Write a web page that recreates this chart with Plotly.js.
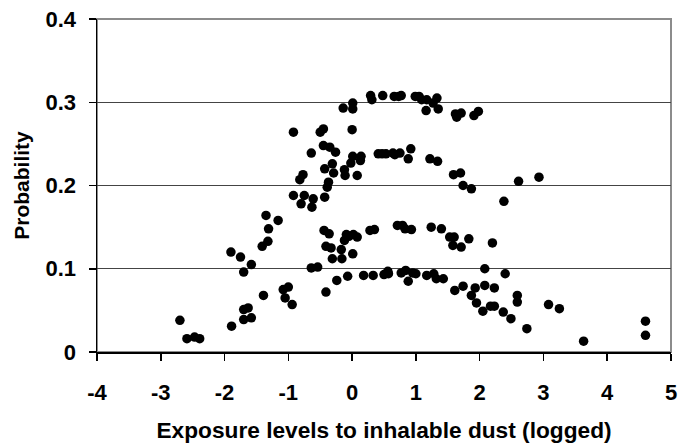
<!DOCTYPE html>
<html>
<head>
<meta charset="utf-8">
<script src="https://cdn.plot.ly/plotly-3.0.1.min.js"></script>
<style>html,body{margin:0;padding:0;background:#fff}#chart{width:680px;height:448px}</style>
</head>
<body>
<div id="chart"></div>
<script>
// Exposure (logged) values
var exposure = [
 -2.70,-2.59,-2.47,-2.39,-1.90,-1.89,-1.75,-1.70,-1.70,-1.70,
 -1.63,-1.58,-1.58,-1.39,-1.41,-1.35,-1.32,-1.31,-1.16,-1.08,
 -1.05,-1.00,-0.94,-0.92,-0.92,-0.82,-0.77,-0.80,-0.75,-0.64,
 -0.63,-0.61,-0.64,-0.54,-0.50,-0.45,-0.45,-0.43,-0.43,-0.44,
 -0.41,-0.41,-0.39,-0.37,-0.36,-0.35,-0.33,-0.31,-0.31,-0.29,
 -0.26,-0.24,-0.17,-0.16,-0.14,-0.12,-0.11,-0.12,-0.07,-0.09,
 -0.05,-0.02,0.00,0.01,0.01,0.01,0.01,0.02,0.08,0.08,
 0.13,0.14,0.18,0.29,0.31,0.28,0.35,0.33,0.41,0.48,
 0.47,0.50,0.53,0.56,0.57,0.64,0.66,0.67,0.73,0.77,
 0.71,0.75,0.79,0.77,0.83,0.84,0.88,0.88,0.92,0.93,
 0.95,1.00,0.99,1.05,1.09,1.16,1.17,1.17,1.24,1.22,
 1.27,1.28,1.34,1.32,1.33,1.35,1.40,1.43,1.53,1.58,
 1.60,1.59,1.61,1.62,1.64,1.70,1.71,1.71,1.74,1.74,
 1.83,1.87,1.87,1.91,1.93,1.95,1.98,2.05,2.08,2.08,
 2.17,2.20,2.23,2.23,2.37,2.38,2.40,2.49,2.59,2.59,
 2.61,2.74,2.93,3.08,3.25,3.63,4.60,4.60
];
// Probability values
var probability = [
 0.038,0.016,0.018,0.016,0.120,0.031,0.114,0.096,0.051,0.039,
 0.053,0.041,0.105,0.068,0.127,0.164,0.133,0.148,0.158,0.075,
 0.065,0.078,0.057,0.264,0.188,0.207,0.213,0.178,0.188,0.239,
 0.174,0.184,0.101,0.102,0.264,0.268,0.248,0.220,0.186,0.146,
 0.127,0.072,0.198,0.204,0.142,0.246,0.125,0.112,0.226,0.215,
 0.240,0.086,0.123,0.112,0.293,0.219,0.212,0.134,0.091,0.141,
 0.139,0.227,0.267,0.299,0.292,0.118,0.235,0.141,0.138,0.212,
 0.230,0.235,0.092,0.308,0.303,0.146,0.147,0.092,0.238,0.308,
 0.238,0.093,0.238,0.097,0.094,0.239,0.307,0.237,0.307,0.308,
 0.152,0.239,0.152,0.095,0.148,0.098,0.232,0.085,0.244,0.147,
 0.095,0.094,0.307,0.307,0.303,0.290,0.303,0.092,0.150,0.232,
 0.299,0.094,0.229,0.088,0.305,0.292,0.148,0.088,0.138,0.128,
 0.138,0.213,0.074,0.286,0.282,0.215,0.287,0.126,0.079,0.200,
 0.136,0.196,0.068,0.284,0.077,0.059,0.289,0.049,0.100,0.080,
 0.055,0.131,0.055,0.077,0.048,0.181,0.094,0.040,0.060,0.068,
 0.205,0.028,0.210,0.057,0.052,0.013,0.037,0.020
];
var xTicks = [-4,-3,-2,-1,0,1,2,3,4,5];
var yTicks = [0,0.1,0.2,0.3,0.4];

var font = "Liberation Sans, Arial, sans-serif";
var trace = {
  x: exposure, y: probability, type: 'scatter', mode: 'markers',
  marker: {color: '#000', size: 9.5, line: {width: 0}},
  hoverinfo: 'skip'
};
var layout = {
  width: 680, height: 448,
  margin: {l: 96.5, r: 9.3, t: 19, b: 96},
  paper_bgcolor: '#fff', plot_bgcolor: '#fff',
  showlegend: false,
  font: {family: font, color: '#000'},
  xaxis: {
    range: [-4, 5], tickvals: xTicks, ticktext: xTicks.map(String),
    showgrid: false, zeroline: false,
    showline: true, linecolor: '#000', linewidth: 1.5,
    ticks: 'outside', ticklen: 7, tickcolor: '#000', tickwidth: 1.5,
    ticklabelstandoff: 13,
    tickfont: {family: font, size: 22, weight: 'bold', color: '#000'},
    title: {text: 'Exposure levels to inhalable dust (logged)', standoff: 18,
            font: {family: font, size: 22.7, weight: 'bold', color: '#000'}},
    automargin: false
  },
  yaxis: {
    range: [0, 0.4], tickvals: yTicks, ticktext: ['0','0.1','0.2','0.3','0.4'],
    showgrid: true, gridcolor: '#444', gridwidth: 1, zeroline: false,
    showline: true, linecolor: '#000', linewidth: 1.5,
    ticks: 'outside', ticklen: 7, tickcolor: '#000', tickwidth: 1.5,
    ticklabelstandoff: 8,
    tickfont: {family: font, size: 22, weight: 'bold', color: '#000'},
    title: {text: 'Probability', standoff: 10,
            font: {family: font, size: 21, weight: 'bold', color: '#000'}},
    automargin: false
  },
  shapes: [{type: 'rect', xref: 'paper', yref: 'paper', x0: 0, x1: 1, y0: 0, y1: 1,
            line: {color: '#8c8c8c', width: 2}, layer: 'below'}]
};
Plotly.newPlot('chart', [trace], layout, {staticPlot: true, displayModeBar: false});
</script>
</body>
</html>
